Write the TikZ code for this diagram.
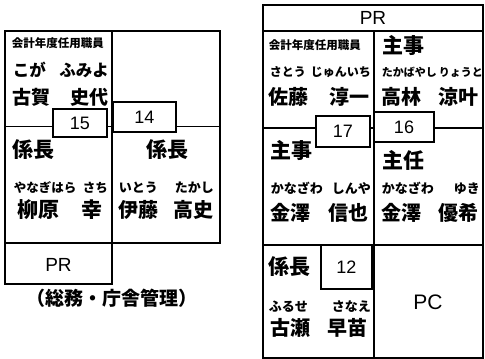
\documentclass[tikz,border=0pt]{standalone}
\usepackage{fontspec}
\setmainfont{Noto Sans CJK JP}
\newfontfamily\lat{Liberation Sans}
\newcommand{\fs}[1]{\fontsize{#1}{#1}\selectfont}
\newcommand{\duo}[3]{\makebox[#1][l]{#2\hfill#3}}

\begin{document}
\begin{tikzpicture}[x=1pt,y=-1pt,line width=1.7pt,
  lbl/.style={inner sep=0pt,font=\bfseries},
  west/.style={lbl,anchor=west},
  numbox/.style={draw,fill=white,inner sep=0pt,font={\fs{18}\lat}}]
\useasboundingbox (0,0) rectangle (485,359);

% left block
\draw (5,31) rectangle (220,243);
\draw (112,31) -- (112,243);
\draw (5,126.5) -- (220,126.5);
\draw (5,243) rectangle (112,284);

\node[west,font={\fs{11.5}\bfseries}] (kaikeiA) at (11,43) {会計年度任用職員};
\node[west,font={\fs{16.5}\bfseries}] (kogaK) at (12,70) {\duo{96pt}{こが}{ふみよ}};
\node[west,font={\fs{19}\bfseries}] (koga) at (12,97) {\duo{96pt}{古賀}{史代}};

\node[west,font={\fs{21}\bfseries}] (kakaricho1) at (12,150) {係長};
\node[west,font={\fs{12.5}\bfseries}] (yanagiK) at (13,188) {\duo{94pt}{やなぎはら}{さち}};
\node[west,font={\fs{21}\bfseries}] (yanagi) at (17,210) {\duo{85pt}{柳原}{幸}};

\node[lbl,font={\fs{21}\bfseries}] (kakaricho2) at (167,150) {係長};
\node[west,font={\fs{13}\bfseries}] (itoK) at (118,188) {\duo{95pt}{いとう}{たかし}};
\node[west,font={\fs{20}\bfseries}] (ito) at (118,210) {\duo{95pt}{伊藤}{高史}};

\node[numbox,minimum width=54pt,minimum height=28pt] (n15) at (80,123) {15};
\node[numbox,minimum width=63pt,minimum height=30pt] (n14) at (144.5,117) {14};

\node[lbl,font={\fs{19}\lat}] (prA) at (58.5,265) {PR};
\node[lbl,font={\fs{19}\bfseries}] (somu) at (112,298) {（総務・庁舎管理）};

% right block
\draw (263,5) rectangle (483,358);
\draw (263,31) -- (483,31);
\draw (374,31) -- (374,358);
\draw (263,128) -- (483,128);
\draw (263,245) -- (483,245);

\node[lbl,font={\fs{19}\lat}] (prB) at (373,18) {PR};

\node[west,font={\fs{11.5}\bfseries}] (kaikeiB) at (268,45) {会計年度任用職員};
\node[west,font={\fs{21}\bfseries}] (shuji1) at (382,45) {主事};
\node[west,font={\fs{12}\bfseries}] (satoK) at (269,72) {\duo{101pt}{さとう}{じゅんいち}};
\node[west,font={\fs{20}\bfseries}] (sato) at (268,97) {\duo{101pt}{佐藤}{淳一}};
\node[west,font={\fs{11}\bfseries}] (takaK) at (381,72) {\duo{101pt}{たかばやし}{りょうと}};
\node[west,font={\fs{20}\bfseries}] (taka) at (381,97) {\duo{97pt}{高林}{涼叶}};

\node[west,font={\fs{21}\bfseries}] (shuji2) at (270,150) {主事};
\node[west,font={\fs{21}\bfseries}] (shunin) at (382,160) {主任};
\node[west,font={\fs{13}\bfseries}] (shinyaK) at (270,188) {\duo{100pt}{かなざわ}{しんや}};
\node[west,font={\fs{20}\bfseries}] (shinya) at (270,213) {\duo{98pt}{金澤}{信也}};
\node[west,font={\fs{13}\bfseries}] (yukiK) at (381,188) {\duo{98pt}{かなざわ}{ゆき}};
\node[west,font={\fs{20}\bfseries}] (yuki) at (381,213) {\duo{97pt}{金澤}{優希}};

\node[numbox,minimum width=54pt,minimum height=31pt] (n17) at (343,131.5) {17};
\node[numbox,minimum width=60pt,minimum height=30pt] (n16) at (404,127) {16};

\node[numbox,minimum width=51pt,minimum height=44pt] (n12) at (346.5,267) {12};
\node[west,font={\fs{21}\bfseries}] (kakaricho3) at (268,267) {係長};
\node[west,font={\fs{13}\bfseries}] (furuseK) at (268,307) {\duo{102pt}{ふるせ}{さなえ}};
\node[west,font={\fs{20}\bfseries}] (furuse) at (270,328) {\duo{97pt}{古瀬}{早苗}};

\node[lbl,font={\fs{21}\lat}] (pc) at (428,302) {PC};
\end{tikzpicture}
\end{document}
